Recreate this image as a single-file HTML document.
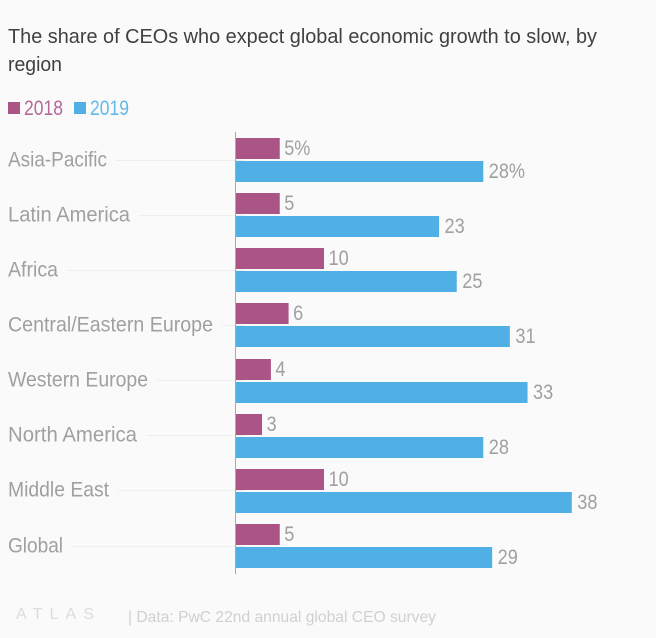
<!DOCTYPE html>
<html lang="en">
<head>
<meta charset="utf-8">
<title>The share of CEOs who expect global economic growth to slow</title>
<style>
html,body{margin:0;padding:0;background:#fafafa;width:656px;height:638px;overflow:hidden}
svg{display:block;font-family:"Liberation Sans",sans-serif}
</style>
</head>
<body>
<svg id="chart" xmlns="http://www.w3.org/2000/svg" width="656" height="638" viewBox="0 0 656 638">
  <rect width="656" height="638" fill="#fafafa"/>
  <text x="8" y="43" font-size="20.5" fill="#404040" textLength="589" lengthAdjust="spacingAndGlyphs">The share of CEOs who expect global economic growth to slow, by</text>
  <text x="8" y="71" font-size="20.5" fill="#404040" textLength="54" lengthAdjust="spacingAndGlyphs">region</text>
  <g>
    <rect x="8" y="102" width="12" height="12" fill="#aa5585"/>
    <text x="24" y="115" font-size="21" fill="#b5689a" textLength="39" lengthAdjust="spacingAndGlyphs">2018</text>
    <rect x="74" y="102" width="12" height="12" fill="#50b0e6"/>
    <text x="90" y="115" font-size="21" fill="#62b9ea" textLength="39" lengthAdjust="spacingAndGlyphs">2019</text>
  </g>
  <g id="plot"></g>
  <text x="16" y="619" font-size="16" fill="#dcdcdc" textLength="78" lengthAdjust="spacing">ATLAS</text>
  <text x="128" y="622" font-size="15.5" fill="#d0d0d0" textLength="308" lengthAdjust="spacingAndGlyphs">| Data: PwC 22nd annual global CEO survey</text>
</svg>
<script>
const categories = ["Asia-Pacific", "Latin America", "Africa", "Central/Eastern Europe", "Western Europe", "North America", "Middle East", "Global"];
const values2018 = [5, 5, 10, 6, 4, 3, 10, 5];
const values2019 = [28, 23, 25, 31, 33, 28, 38, 29];

const NS = "http://www.w3.org/2000/svg";
const plot = document.getElementById("plot");
const x0 = 235.5, unit = 8.85, top0 = 138, step = 55.15, barH = 21, gap = 2;
const xScale = v => v * unit;
const yScale = i => Math.round(top0 + i * step);
const centerY = i => Math.floor(top0 + i * step + 22) + 0.5;
const labelInk = {"Asia-Pacific": 99, "Latin America": 122, "Africa": 50, "Central/Eastern Europe": 205, "Western Europe": 140, "North America": 129, "Middle East": 101, "Global": 55};

function make(tag, attrs, text) {
  const el = document.createElementNS(NS, tag);
  for (const k in attrs) el.setAttribute(k, attrs[k]);
  if (text !== undefined) el.textContent = text;
  plot.appendChild(el);
  return el;
}
function valueLabel(x, y, str) {
  const digits = str.replace("%", "").length;
  const len = digits * 10.1 + (str.indexOf("%") >= 0 ? 16 : 0);
  return make("text", {x: x, y: y, "font-size": 21, fill: "#a0a0a0", textLength: len, lengthAdjust: "spacingAndGlyphs"}, str);
}

categories.forEach((cat, i) => {
  const y = yScale(i);
  const cy = centerY(i);
  const fitted = labelInk[cat] || cat.length * 9;
  const label = make("text", {x: 8, y: cy + 6, "font-size": 21, fill: "#a0a0a0", textLength: fitted, lengthAdjust: "spacingAndGlyphs"}, cat);
  
  

  const grid = make("line", {x1: 8 + fitted + 9, x2: 245, y1: cy, y2: cy, stroke: "#eeeeee", "stroke-width": 1});
  
  

  const bar18 = make("rect", {x: x0, y: y, width: xScale(values2018[i]), height: barH, fill: "#aa5585"});
  
  

  const bar19 = make("rect", {x: x0, y: y + barH + gap, width: xScale(values2019[i]), height: barH, fill: "#50b0e6"});
  
  

  const suffix = i === 0 ? "%" : "";
  const val18 = valueLabel(x0 + xScale(values2018[i]) + 4.5, y + 17, values2018[i] + suffix);
  
  

  const val19 = valueLabel(x0 + xScale(values2019[i]) + 5.5, y + 40, values2019[i] + suffix);
  
  
});

const axis = make("line", {x1: 235.5, x2: 235.5, y1: 132, y2: 574, stroke: "#a8a8a8", "stroke-width": 1});


</script>
</body>
</html>
